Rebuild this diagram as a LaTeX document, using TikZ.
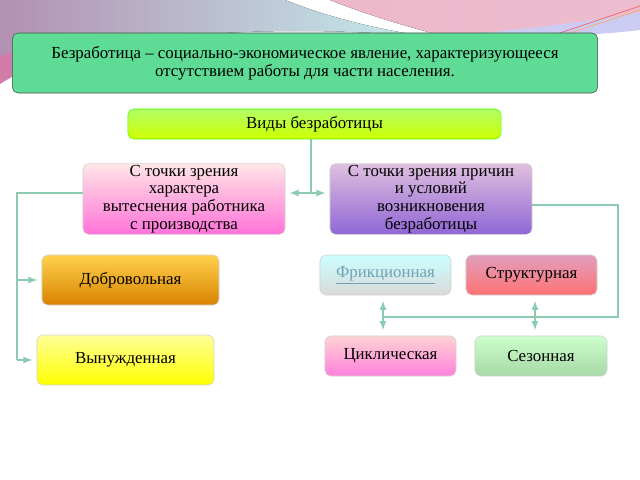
\documentclass[tikz,border=0pt]{standalone}
\usepackage{fontspec}
\setmainfont{Liberation Serif}
\definecolor{linecol}{HTML}{8CCBB0}
\definecolor{defgreen}{HTML}{5EDC96}
\begin{document}
\begin{tikzpicture}[x=0.025cm,y=-0.025cm,
		box/.style={draw=gray!35,rounded corners=4pt,align=center,inner sep=1pt,font=\fontsize{12}{12.6}\selectfont},
		link/.style={draw=linecol,line width=1.2pt},
		tip/.style={-latex,shorten >=3}]
		\useasboundingbox (0,0) rectangle (640,480);
		% Decorative waves in the top strip
		\fill[left color=gray!55!violet!60,right color=gray!45!cyan!30] (0,0) -- (285,0) .. controls (330,18) and (380,30) .. (430,37) .. controls (300,25) and (150,30) .. (0,62) -- cycle;
		\fill[violet!35!pink] (0,56) .. controls (40,45) and (80,40) .. (120,38) .. controls (70,50) and (30,65) .. (0,84) -- cycle;
		\fill[left color=violet!20!pink!70,right color=violet!25!pink!60] (330,0) -- (640,0) -- (640,14) .. controls (560,26) and (500,33) .. (440,35) .. controls (400,25) and (360,12) .. (330,0) -- cycle;
		\fill[gray!40!blue!25] (430,37) .. controls (520,30) and (590,22) .. (640,12) -- (640,30) .. controls (590,36) and (520,39) .. (430,37) -- cycle;
		\draw [red!70] (545,38) -- (640,6);
		\draw [orange!70] (552,39) -- (640,10);
		% Definition
		\node [box,draw=black!70,fill=defgreen,minimum width=14.625cm,minimum height=1.5cm] (def) at (305,63) {Безработица -- социально-экономическое явление, характеризующееся\\ отсутствием работы для части населения.};
		\node [box,draw=green!60!lime,top color=green!35!lime!60,bottom color=lime!75!yellow,minimum width=9.325cm,minimum height=0.75cm] (vidy) at (314.5,124) {Виды безработицы};
		% Two points of view
		\node [box,top color=pink!40,bottom color=magenta!40!pink,minimum width=5.05cm,minimum height=1.75cm] (harakter) at (184,199) {С точки зрения\\ характера\\ вытеснения работника\\ с производства};
		\node [box,top color=violet!25,bottom color=violet!55!blue!60,minimum width=5.05cm,minimum height=1.75cm] (prichiny) at (431,199) {С точки зрения причин\\ и условий\\ возникновения\\ безработицы};
		% Left branch
		\node [box,top color=orange!50!yellow!70,bottom color=orange!80!yellow!85!black,minimum width=4.425cm,minimum height=1.25cm] (dobr) at (130.5,280) {Добровольная};
		\node [box,top color=yellow!40,bottom color=yellow,minimum width=4.425cm,minimum height=1.25cm] (vyn) at (125.5,360) {Вынужденная};
		% Right branch
		\node [box,top color=cyan!20,bottom color=gray!30,minimum width=3.275cm,minimum height=1cm,text=cyan!40!gray] (frik) at (385.5,275) {\underline{Фрикционная}};
		\node [box,top color=violet!30!pink!80,bottom color=red!40!pink,minimum width=3.275cm,minimum height=1cm] (strukt) at (531.5,275) {Структурная};
		\node [box,top color=pink!70,bottom color=magenta!40!pink!90,minimum width=3.275cm,minimum height=1cm] (cikl) at (390.5,356) {Циклическая};
		\node [box,top color=green!20,bottom color=green!40!gray!50,minimum width=3.3cm,minimum height=1cm] (sez) at (541,356) {Сезонная};
		% Connectors
		\coordinate (split) at (311,193);
		\coordinate (lcorner) at (17,193);
		\coordinate (rcorner) at (618,205);
		\coordinate (fbus) at (383,317);
		\coordinate (sbus) at (535,317);
		\draw [link] (vidy.south -| split) -- (split);
		\draw [link,tip] (split) -- (harakter.east |- split);
		\draw [link,tip] (split) -- (prichiny.west |- split);
		\draw [link] (harakter.west |- lcorner) -- (lcorner) -- (lcorner |- vyn.west);
		\draw [link,tip] (lcorner |- dobr.west) -- (dobr.west);
		\draw [link,tip] (lcorner |- vyn.west) -- (vyn.west);
		\draw [link] (prichiny.east |- rcorner) -- (rcorner) -- (rcorner |- fbus) -- (fbus);
		\draw [link,latex-latex,shorten <=4,shorten >=4] (fbus |- frik.south) -- (fbus |- cikl.north);
		\draw [link,latex-latex,shorten <=4,shorten >=4] (sbus |- strukt.south) -- (sbus |- sez.north);
\end{tikzpicture}
\end{document}
